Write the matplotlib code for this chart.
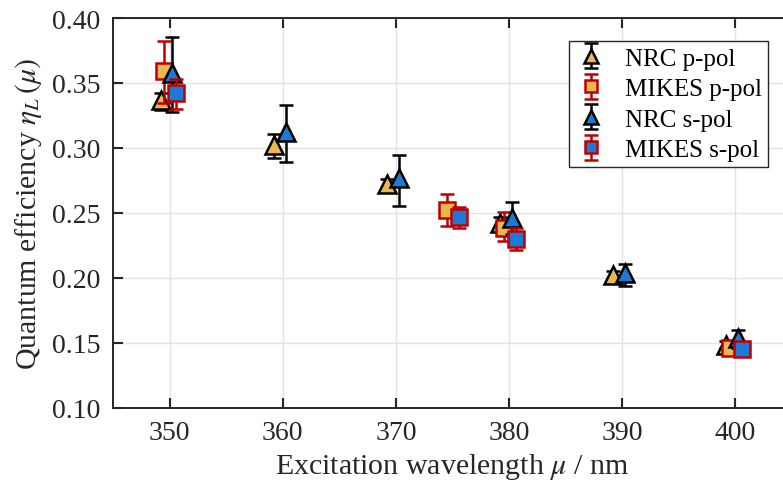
import matplotlib
matplotlib.use("Agg")
import matplotlib.pyplot as plt

# NRC: measured at six wavelengths, MIKES at four
nrc_wl = [350, 360, 370, 380, 390, 400]
nrc_p = [0.337, 0.302, 0.272, 0.242, 0.202, 0.1485]
nrc_p_lo = [0.329, 0.292, 0.268, 0.237, 0.200, 0.146]
nrc_p_hi = [0.3425, 0.311, 0.276, 0.247, 0.205, 0.151]
nrc_s = [0.358, 0.3125, 0.277, 0.246, 0.2036, 0.1536]
nrc_s_lo = [0.328, 0.289, 0.255, 0.234, 0.1938, 0.146]
nrc_s_hi = [0.3856, 0.333, 0.2946, 0.2587, 0.2108, 0.160]

mikes_wl = [350, 375, 380, 400]
mikes_p = [0.359, 0.2523, 0.2382, 0.146]
mikes_p_lo = [0.3346, 0.2395, 0.228, 0.142]
mikes_p_hi = [0.3825, 0.2644, 0.2505, 0.150]
mikes_s = [0.342, 0.2467, 0.2298, 0.1454]
mikes_s_lo = [0.330, 0.2382, 0.2215, 0.142]
mikes_s_hi = [0.353, 0.2544, 0.2382, 0.149]

YELLOW, BLUE, RED = "#EBB74E", "#1A7AD6", "#C00000"
INK = "#262626"

plt.rcParams["font.family"] = ["Liberation Serif", "DejaVu Serif"]
plt.rcParams["mathtext.fontset"] = "stix"

fig = plt.figure(figsize=(7.83, 4.85), dpi=100)
ax = fig.add_axes([113 / 783, 1 - 408.7 / 485, 679 / 783, 389.7 / 485])


def series(wl, shift, y, lo, hi, marker, face, ecol, ms, label, z):
    xs = [w + shift for w in wl]
    err = [[v - l for v, l in zip(y, lo)], [h - v for v, h in zip(y, hi)]]
    ax.errorbar(xs, y, yerr=err, fmt=marker, ms=ms, mfc=face, mec=ecol,
                mew=1.8, ecolor=ecol, elinewidth=1.8, capsize=5, capthick=1.8,
                label=label, zorder=z)


series(nrc_wl, -0.8, nrc_p, nrc_p_lo, nrc_p_hi, "^", YELLOW, "k", 12.5, "NRC p-pol", 3)
series(mikes_wl, -0.45, mikes_p, mikes_p_lo, mikes_p_hi, "s", YELLOW, RED, 11, "MIKES p-pol", 4)
series(nrc_wl, 0.25, nrc_s, nrc_s_lo, nrc_s_hi, "^", BLUE, "k", 12.5, "NRC s-pol", 5)
series(mikes_wl, 0.6, mikes_s, mikes_s_lo, mikes_s_hi, "s", BLUE, RED, 11, "MIKES s-pol", 6)

ax.set_xlim(345, 405)
ax.set_ylim(0.10, 0.40)
ax.set_xticks([350, 360, 370, 380, 390, 400])
ax.set_yticks([0.10, 0.15, 0.20, 0.25, 0.30, 0.35, 0.40])
ax.set_yticklabels([f"{v:.2f}" for v in ax.get_yticks()])
ax.tick_params(direction="in", length=7, width=1.5, labelsize=20, colors=INK,
               top=True, pad=9)
ax.grid(True, color="#e3e3e3", lw=1)
ax.set_axisbelow(True)
for s in ax.spines.values():
    s.set_linewidth(1.4)
    s.set_color(INK)

ax.set_xlabel(r"Excitation wavelength $\mu$ / nm", fontsize=21.5, color=INK, labelpad=4)
ax.set_ylabel(r"Quantum efficiency $\eta_L\,(\mu)$", fontsize=21.5, color=INK, labelpad=6)

leg = ax.legend(loc="upper right", bbox_to_anchor=(0.965, 0.941), fontsize=18,
                fancybox=False, framealpha=1, edgecolor=INK, markerscale=0.75,
                handletextpad=0.7, borderpad=0.25, labelspacing=0.32,
                handlelength=1.3, borderaxespad=0)
leg.get_frame().set_linewidth(1.0)

fig.savefig("out.png", dpi=100)
